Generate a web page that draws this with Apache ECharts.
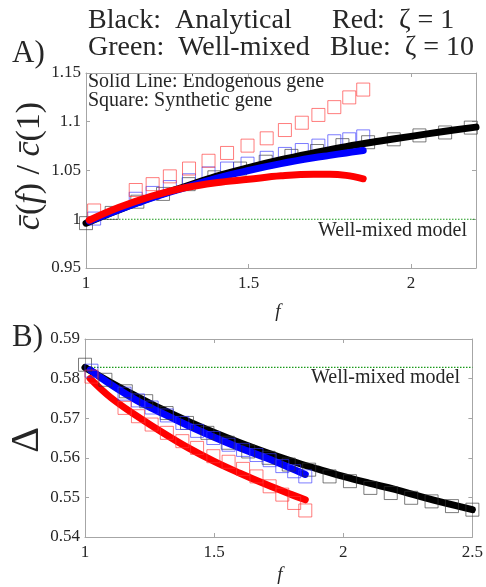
<!DOCTYPE html>
<html><head><meta charset="utf-8">
<script src="https://cdn.jsdelivr.net/npm/echarts@6/dist/echarts.min.js"></script>
<style>html,body{margin:0;padding:0;background:#fff}#c{width:486px;height:587px}</style>
</head><body><div id="c"></div>
<script>
// ---------- data ----------
const xTicksA = [1, 1.5, 2];
const yTicksA = [0.95, 1, 1.05, 1.1, 1.15];
const xTicksB = [1, 1.5, 2, 2.5];
const yTicksB = [0.54, 0.55, 0.56, 0.57, 0.58, 0.59];

// squares (synthetic gene)
const fBlackSqA = [1.000,1.079,1.158,1.237,1.316,1.395,1.474,1.553,1.632,1.711,1.789,1.868,1.947,2.026,2.105,2.184];
const cBlackSqA = [0.996,1.0065,1.018,1.026,1.036,1.043,1.052,1.059,1.065,1.070,1.076,1.079,1.082,1.086,1.089,1.094];
const fColorSq = [1.025,1.153,1.205,1.258,1.317,1.377,1.434,1.497,1.556,1.612,1.664,1.715,1.764,1.81,1.853];
const cRedSqA  = [1.009,1.030,1.036,1.044,1.052,1.060,1.068,1.0755,1.083,1.0915,1.099,1.107,1.115,1.125,1.133];
const cBlueSqA = [1.0007,1.021,1.027,1.033,1.040,1.047,1.052,1.057,1.063,1.067,1.071,1.0755,1.080,1.082,1.085];

// lines (endogenous gene)
const fBlackLineA = [1,1.1,1.2,1.3,1.4,1.5,1.6,1.7,1.8,1.9,2.0,2.1,2.2];
const cBlackLineA = [0.996,1.0095,1.022,1.033,1.044,1.053,1.061,1.068,1.0745,1.080,1.085,1.090,1.0945];
const fColorLineA = [1.01,1.1,1.2,1.3,1.4,1.5,1.6,1.7,1.75,1.8,1.853];
const cBlueLineA  = [0.998,1.0095,1.0215,1.032,1.042,1.050,1.057,1.063,1.0655,1.068,1.0705];
const cRedLineA   = [0.999,1.012,1.0235,1.032,1.0375,1.041,1.0445,1.0462,1.0462,1.0450,1.0415];
const wellMixedA = 1;

const fBlackSqB = [1.000,1.079,1.158,1.237,1.316,1.395,1.474,1.553,1.632,1.711,1.789,1.868,1.947,2.026,2.105,2.184,2.263,2.342,2.421,2.5];
const dBlackSqB = [0.5835,0.5797,0.5768,0.5743,0.5713,0.5688,0.5663,0.5638,0.5616,0.5600,0.5583,0.5570,0.5553,0.5541,0.5524,0.5511,0.5499,0.5490,0.5478,0.5469];
const dRedSqB  = [0.5805,0.5726,0.5705,0.5684,0.5663,0.5642,0.5625,0.5604,0.5590,0.5572,0.5553,0.5528,0.5507,0.5486,0.5467];
const dBlueSqB = [0.5820,0.5762,0.5745,0.5727,0.5707,0.5688,0.5668,0.5650,0.5633,0.5620,0.5607,0.5594,0.5579,0.5566,0.5553];

const fBlackLineB = [1,1.1,1.2,1.3,1.4,1.5,1.6,1.7,1.8,1.9,2.0,2.1,2.2,2.3,2.4,2.5];
const dBlackLineB = [0.5828,0.5790,0.5755,0.5722,0.5692,0.5664,0.5638,0.5614,0.5592,0.5572,0.5553,0.5536,0.5520,0.5502,0.5485,0.5469];
const fColorLineB = [1.02,1.1,1.2,1.3,1.4,1.5,1.6,1.7,1.8,1.853];
const dBlueLineB = [0.5822,0.5785,0.5745,0.5712,0.5681,0.5652,0.5625,0.5600,0.5573,0.5558];
const dRedLineB  = [0.5800,0.5752,0.5706,0.5664,0.5625,0.5591,0.5561,0.5533,0.5507,0.5494];
const wellMixedB = 0.58285;

// ---------- helpers ----------
const zip = (xs, ys) => xs.map((x, i) => [x, ys[i]]);
const SERIF = 'Liberation Serif';
const AX = '#a6a6a6';
const TXT = '#262626';

function xAxes(gi, min, max, ticks) {
  return [
    {gridIndex: gi, type: 'value', min, max, position: 'bottom',
     axisLine: {show: true, onZero: false, lineStyle: {color: AX, width: 1}},
     axisTick: {show: true, inside: true, length: 4, customValues: ticks, lineStyle: {color: AX}},
     axisLabel: {show: true, customValues: ticks, margin: 7, color: TXT, fontFamily: SERIF, fontSize: 17},
     splitLine: {show: false}},
    {gridIndex: gi, type: 'value', min, max, position: 'top',
     axisLine: {show: true, onZero: false, lineStyle: {color: AX, width: 1}},
     axisTick: {show: true, inside: true, length: 4, customValues: ticks, lineStyle: {color: AX}},
     axisLabel: {show: false}, splitLine: {show: false}}
  ];
}
function yAxes(gi, min, max, ticks) {
  return [
    {gridIndex: gi, type: 'value', min, max, position: 'left',
     axisLine: {show: true, onZero: false, lineStyle: {color: AX, width: 1}},
     axisTick: {show: true, inside: true, length: 4, customValues: ticks, lineStyle: {color: AX}},
     axisLabel: {show: true, customValues: ticks, margin: 5, color: TXT, fontFamily: SERIF, fontSize: 17},
     splitLine: {show: false}},
    {gridIndex: gi, type: 'value', min, max, position: 'right',
     axisLine: {show: true, onZero: false, lineStyle: {color: AX, width: 1}},
     axisTick: {show: true, inside: true, length: 4, customValues: ticks, lineStyle: {color: AX}},
     axisLabel: {show: false}, splitLine: {show: false}}
  ];
}
function squares(xi, yi, data, color, z) {
  return {type: 'scatter', xAxisIndex: xi, yAxisIndex: yi, data, symbol: 'rect', symbolSize: 13,
    clip: false, z, silent: true,
    itemStyle: {color: 'rgba(0,0,0,0)', borderColor: color, borderWidth: 1}};
}
function thick(xi, yi, data, color, width, z) {
  return {type: 'line', xAxisIndex: xi, yAxisIndex: yi, data, showSymbol: false, symbol: 'none',
    smooth: 0.4, z, silent: true, clip: false,
    lineStyle: {color, width, cap: 'round', join: 'round'}};
}
function dotted(xi, yi, data) {
  return {type: 'line', xAxisIndex: xi, yAxisIndex: yi, data, showSymbol: false, symbol: 'none', z: 1,
    lineStyle: {color: '#1a9a1a', width: 1.2, type: [1.5, 1.5]}};
}

const chart = echarts.init(document.getElementById('c'));
const option = {
  animation: false,
  backgroundColor: '#fff',
  grid: [
    {left: 86, top: 73, width: 390, height: 195},
    {left: 85, top: 339, width: 389, height: 198}
  ],
  xAxis: [...xAxes(0, 1, 2.2, xTicksA), ...xAxes(1, 1, 2.5, xTicksB)],
  yAxis: [...yAxes(0, 0.95, 1.15, yTicksA), ...yAxes(1, 0.54, 0.59, yTicksB)],
  series: [
    dotted(0, 0, [[1, wellMixedA], [2.2, wellMixedA]]),
    squares(0, 0, zip(fBlackSqA, cBlackSqA), 'rgba(50,50,50,0.8)', 2),
    squares(0, 0, zip(fColorSq, cBlueSqA), 'rgba(50,50,255,0.8)', 2),
    squares(0, 0, zip(fColorSq, cRedSqA), 'rgba(255,50,50,0.8)', 2),
    thick(0, 0, zip(fBlackLineA, cBlackLineA), '#000000', 7, 3),
    thick(0, 0, zip(fColorLineA, cBlueLineA), '#0000ff', 7, 4),
    thick(0, 0, zip(fColorLineA, cRedLineA), '#ff0000', 7, 5),

    dotted(2, 2, [[1, wellMixedB], [2.5, wellMixedB]]),
    thick(2, 2, zip(fBlackLineB, dBlackLineB), '#000000', 7, 3),
    thick(2, 2, zip(fColorLineB, dBlueLineB), '#0000ff', 7, 4),
    thick(2, 2, zip(fColorLineB, dRedLineB), '#ff0000', 7, 5),
    squares(2, 2, zip(fBlackSqB, dBlackSqB), 'rgba(50,50,50,0.8)', 6),
    squares(2, 2, zip(fColorSq, dBlueSqB), 'rgba(50,50,255,0.8)', 6),
    squares(2, 2, zip(fColorSq, dRedSqB), 'rgba(255,50,50,0.8)', 6)
  ],
  graphic: [
    {type: 'text', left: 88, top: 7, style: {text: 'Black:  Analytical', font: '28px "Liberation Serif"', fill: TXT}},
    {type: 'text', left: 332, top: 7, style: {text: 'Red:  ζ = 1', font: '28px "Liberation Serif"', fill: TXT}},
    {type: 'text', left: 88, top: 34, style: {text: 'Green:  Well-mixed', font: '28px "Liberation Serif"', fill: TXT}},
    {type: 'text', left: 330, top: 34, style: {text: 'Blue:  ζ = 10', font: '28px "Liberation Serif"', fill: TXT}},
    {type: 'text', left: 12, top: 38, style: {text: 'A)', font: '31px "Liberation Serif"', fill: TXT}},
    {type: 'text', left: 12, top: 322, style: {text: 'B)', font: '31px "Liberation Serif"', fill: TXT}},
    {type: 'text', left: 88, top: 72, style: {text: 'Solid Line: Endogenous gene', font: '20px "Liberation Serif"', fill: TXT}},
    {type: 'text', left: 88, top: 91, style: {text: 'Square: Synthetic gene', font: '20px "Liberation Serif"', fill: TXT}},
    {type: 'text', x: 467, y: 231, style: {text: 'Well-mixed model', font: '20px "Liberation Serif"', fill: TXT, align: 'right', verticalAlign: 'middle'}},
    {type: 'text', x: 460, y: 378, style: {text: 'Well-mixed model', font: '20px "Liberation Serif"', fill: TXT, align: 'right', verticalAlign: 'middle'}},
    {type: 'text', x: 278, y: 312, style: {text: 'f', font: 'italic 19px "Liberation Serif"', fill: TXT, align: 'center', verticalAlign: 'middle'}},
    {type: 'text', x: 280, y: 575, style: {text: 'f', font: 'italic 19px "Liberation Serif"', fill: TXT, align: 'center', verticalAlign: 'middle'}},
    {type: 'text', x: 30, y: 166, rotation: Math.PI / 2,
     style: {text: '{i|c̄}{n|(}{i|f}{n|) / }{i|c̄}{n|(1)}', align: 'center', verticalAlign: 'middle', fill: TXT,
       rich: {i: {font: 'italic 34px "Liberation Serif"', fill: TXT}, n: {font: '34px "Liberation Serif"', fill: TXT}}}},
    {type: 'text', x: 27, y: 440, rotation: Math.PI / 2,
     style: {text: 'Δ', font: '40px "Liberation Serif"', fill: TXT, align: 'center', verticalAlign: 'middle'}}
  ]
};
chart.setOption(option);
</script></body></html>
